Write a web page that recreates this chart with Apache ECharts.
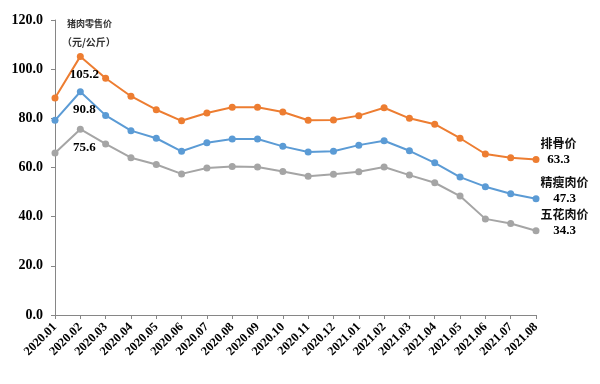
<!DOCTYPE html>
<html>
<head>
<meta charset="utf-8">
<script src="https://cdn.jsdelivr.net/npm/echarts@6/dist/echarts.min.js"></script>
<style>html,body{margin:0;padding:0;background:#fff}#c{width:600px;height:384px}</style>
</head>
<body>
<div id="c"></div>
<script>
var categories = ['2020.01','2020.02','2020.03','2020.04','2020.05','2020.06','2020.07','2020.08','2020.09','2020.10','2020.11','2020.12','2021.01','2021.02','2021.03','2021.04','2021.05','2021.06','2021.07','2021.08'];
var seriesNames = ['排骨价','精瘦肉价','五花肉价'];
var paigu = [88.3,105.2,96.3,89.0,83.5,79.0,82.2,84.5,84.5,82.6,79.2,79.3,81.1,84.3,80.0,77.6,71.9,65.5,64.0,63.3];
var jingshou = [79.2,90.8,81.2,75.0,71.9,66.6,70.1,71.6,71.6,68.6,66.3,66.6,69.1,70.9,66.8,61.9,56.1,52.2,49.3,47.3];
var wuhua = [65.9,75.6,69.6,64.0,61.2,57.4,59.8,60.4,60.2,58.4,56.4,57.3,58.3,60.2,56.9,53.8,48.4,39.1,37.2,34.3];
var yTicks = {min:0, max:120, interval:20};
var titleLines = ['猪肉零售价','（元/公斤）'];

var colors = ['#ED7D31','#5B9BD5','#A5A5A5'];
var serif = '"Liberation Serif","Times New Roman",serif';
var cjk = '"Noto Sans CJK SC",sans-serif';

function buildData(vals, name, peakIdx){
  return vals.map(function(v,i){
    var d = {value:v};
    if (i === peakIdx) {
      d.label = {show:true, position:'bottom', distance:8, offset:[4,0],
        formatter: function(p){return p.value.toFixed(1);},
        fontFamily: serif, fontWeight:'bold', fontSize:13, color:'#000'};
    }
    if (i === vals.length-1) {
      d.label = {show:true, position:'right', distance:1, offset:[0,-8],
        formatter: '{n|' + name + '}\n{v|' + v.toFixed(1) + '}',
        rich:{
          n:{fontFamily:cjk, fontSize:12, fontWeight:'bold', color:'#111', align:'center', lineHeight:16},
          v:{fontFamily:serif, fontSize:13, fontWeight:'bold', color:'#000', align:'center', lineHeight:16}
        }};
    }
    return d;
  });
}

var allVals = [paigu, jingshou, wuhua];
var series = allVals.map(function(vals, k){
  return {
    name: seriesNames[k], type:'line', data: buildData(vals, seriesNames[k], 1),
    symbol:'circle', symbolSize:7, showSymbol:true,
    lineStyle:{width:2, color:colors[k]}, itemStyle:{color:colors[k]},
    label:{show:false}, animation:false, z: 3-k
  };
});

var chart = echarts.init(document.getElementById('c'));
chart.setOption({
  animation:false,
  grid:{left:55, right:64, top:20, bottom:69, containLabel:false},
  xAxis:{type:'category', data:categories, boundaryGap:false,
    axisLine:{lineStyle:{color:'#868686', width:1}},
    axisTick:{show:true, alignWithLabel:true, length:4, lineStyle:{color:'#868686'}},
    axisLabel:{rotate:45, interval:0, margin:10, fontFamily:serif, fontWeight:'bold', fontSize:12.5, color:'#000'},
    splitLine:{show:false}},
  yAxis:{type:'value', min:yTicks.min, max:yTicks.max, interval:yTicks.interval,
    axisLine:{show:true, lineStyle:{color:'#868686', width:1}},
    axisTick:{show:true, length:4, lineStyle:{color:'#868686'}},
    axisLabel:{margin:12, fontFamily:serif, fontWeight:'bold', fontSize:14, color:'#000',
      formatter:function(v){return v.toFixed(1);}},
    splitLine:{show:false}},
  graphic:[
    {type:'text', left:67, top:19, style:{text:titleLines[0], font:'bold 9px ' + cjk, fill:'#333'}},
    {type:'text', left:62, top:37, style:{text:titleLines[1], font:'bold 10px ' + cjk, fill:'#333'}}
  ],
  series: series
});
</script>
</body>
</html>
